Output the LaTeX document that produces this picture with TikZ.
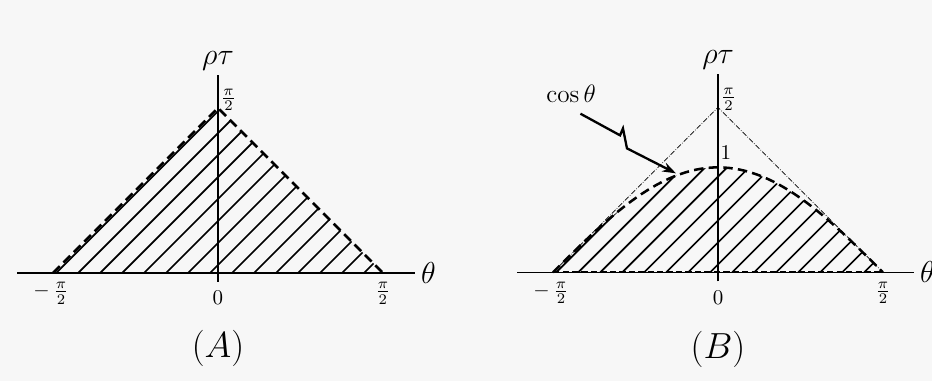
\documentclass[tikz,border=0pt]{standalone}
\usepackage{tikz}
\usetikzlibrary{arrows.meta}
\tikzset{
	axisline/.style={line width=0.75pt}
}
\tikzset{
	edgedash/.style={line width=1.2pt, dash pattern=on 4.5pt off 2.5pt},
	basedash/.style={line width=0.9pt, dash pattern=on 3pt off 1.5pt},
	hatchline/.style={line width=0.8pt},
	guideline/.style={line width=0.35pt, dash pattern=on 2.5pt off 0.8pt on 0.3pt off 0.8pt},
	pointer/.style={line width=1.1pt, line join=miter, -{Stealth[length=6.5pt,width=4.5pt]}},
	ticklabel/.style={font=\normalsize, inner sep=1pt}
}
\newcommand{\halfpi}{\frac{\pi}{2}}

\begin{document}
\begin{tikzpicture}[x=1.757cm, y=1.757cm]
      \fill[black!3] (0,0) rectangle (8.876,3.629);
      \useasboundingbox (0,0) rectangle (8.876,3.629);
      % (A)
      \begin{scope}[shift={(2.076,1.03)}]
        \coordinate (aL) at (-1.5708,0);
        \coordinate (aT) at (0,1.5708);
        \coordinate (aR) at (1.5708,0);
        \begin{scope}
          \clip (aL) -- (aT) -- (aR) -- cycle;
          \foreach \k in {0,...,14}
            \draw[hatchline] ({-pi/2+0.03+\k*pi/15},0) -- ++(2,2);
        \end{scope}
        \draw[axisline] (-1.914,0) -- (1.876,0) node[right, inner sep=2.5pt] (thetaA) {\Large$\theta$};
        \draw[axisline] (0,-0.086) -- (0,1.886);
        \node (rhoA) at (0,2.02) {\Large$\rho\tau$};
        \draw[edgedash] (aL) -- (aT) -- (aR);
        \draw[basedash] (aL) -- (aR);
        \node[ticklabel] (topA) at (0.1,1.65) {$\halfpi$};
        \node[ticklabel, anchor=north] (leftA) at (-1.59,-0.065) {$-\,\halfpi$};
        \node[ticklabel, anchor=north] (zeroA) at (0,-0.15) {$0$};
        \node[ticklabel, anchor=north] (rightA) at (1.5708,-0.065) {$\halfpi$};
        \node (capA) at (0,-0.724) {\LARGE$(A)$};
      \end{scope}
      % (B)
      \begin{scope}[shift={(6.838,1.035)}]
        \coordinate (bL) at (-1.5708,0);
        \coordinate (bT) at (0,1.5708);
        \coordinate (bR) at (1.5708,0);
        \begin{scope}
          \clip plot[domain=-1.5708:1.5708, samples=61] (\x,{cos(\x r)}) -- cycle;
          \foreach \k in {0,...,14}
            \draw[hatchline] ({-pi/2+0.03+\k*pi/15},0) -- ++(2,2);
        \end{scope}
        \draw[axisline] (-1.914,0) -- (1.867,0) node[right, inner sep=2.5pt] (thetaB) {\Large$\theta$};
        \draw[axisline] (0,-0.086) -- (0,1.886);
        \node (rhoB) at (0,2.02) {\Large$\rho\tau$};
        \draw[guideline] (bL) -- (bT) -- (bR);
        \draw[edgedash] plot[domain=-1.5708:1.5708, samples=61] (\x,{cos(\x r)});
        \draw[basedash] (bL) -- (bR);
        \node[ticklabel] (topB) at (0.1,1.65) {$\halfpi$};
        \node[ticklabel, anchor=south west] (oneB) at (0,1.05) {$1$};
        \node[ticklabel, anchor=north] (leftB) at (-1.59,-0.065) {$-\,\halfpi$};
        \node[ticklabel, anchor=north] (zeroB) at (0,-0.15) {$0$};
        \node[ticklabel, anchor=north] (rightB) at (1.5708,-0.065) {$\halfpi$};
        \node (capB) at (0,-0.733) {\LARGE$(B)$};
        \node (cosB) at (-1.40,1.705) {\large$\cos\theta$};
        \coordinate (boltA) at (-0.933,1.305);
        \coordinate (boltB) at (-0.905,1.371);
        \coordinate (boltC) at (-0.867,1.181);
        \coordinate (tipB) at (-0.4,0.943);
        \draw[pointer] (cosB.south) ++(0.09,-0.04) -- (boltA) -- (boltB) -- (boltC) -- (tipB);
      \end{scope}
    \end{tikzpicture}
\end{document}
